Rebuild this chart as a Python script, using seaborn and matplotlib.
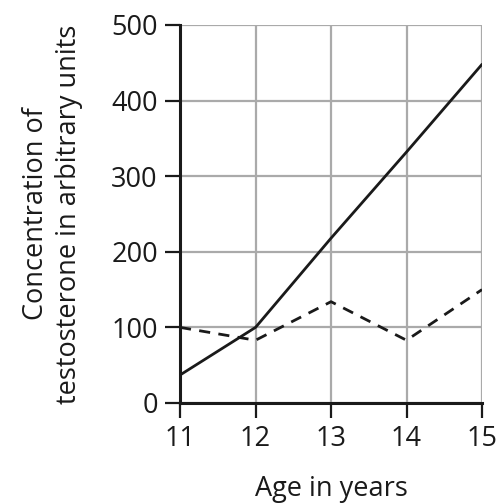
import matplotlib
matplotlib.use('Agg')
import matplotlib.pyplot as plt
import pandas as pd
import seaborn as sns

# Values
ages = [11, 12, 13, 14, 15]
solid_values = [37, 100, 218, 332, 448]
dashed_values = [100, 83, 134, 83, 150]

df = pd.DataFrame({'age': ages, 'solid': solid_values, 'dashed': dashed_values})

sns.set_style('white')
plt.rcParams['font.family'] = ['Open Sans', 'DejaVu Sans']

fig = plt.figure(figsize=(5.02, 5.04), dpi=100)
ax = fig.add_axes([0.3586, 0.2004, 0.6016, 0.75])

sns.lineplot(data=df, x='age', y='solid', ax=ax, color='#1a1a1a', linewidth=2)
sns.lineplot(data=df, x='age', y='dashed', ax=ax, color='#1a1a1a', linewidth=2,
             linestyle=(0, (4, 3)))

ax.set_xlim(11, 15)
ax.set_ylim(0, 500)
ax.set_xticks(ages)
ax.set_yticks([0, 100, 200, 300, 400, 500])
ax.grid(True, color='#aaaaaa', linewidth=1.6)
ax.set_axisbelow(True)

for side in ['top', 'right']:
    ax.spines[side].set_visible(False)
for side in ['left', 'bottom']:
    ax.spines[side].set_color('#1a1a1a')
    ax.spines[side].set_linewidth(2.2)
    ax.spines[side].set_zorder(5)

ax.tick_params(axis='both', direction='out', length=11, width=1.6,
               color='#1a1a1a', labelsize=19.5, labelcolor='#1a1a1a', pad=5,
               left=True, bottom=True)

ax.set_xlabel('Age in years', fontsize=19.5, color='#1a1a1a', labelpad=16)
ax.set_ylabel('Concentration of\ntestosterone in arbitrary units', fontsize=19.5,
              color='#1a1a1a', labelpad=20, linespacing=1.25)

fig.savefig('out.png', dpi=100)
